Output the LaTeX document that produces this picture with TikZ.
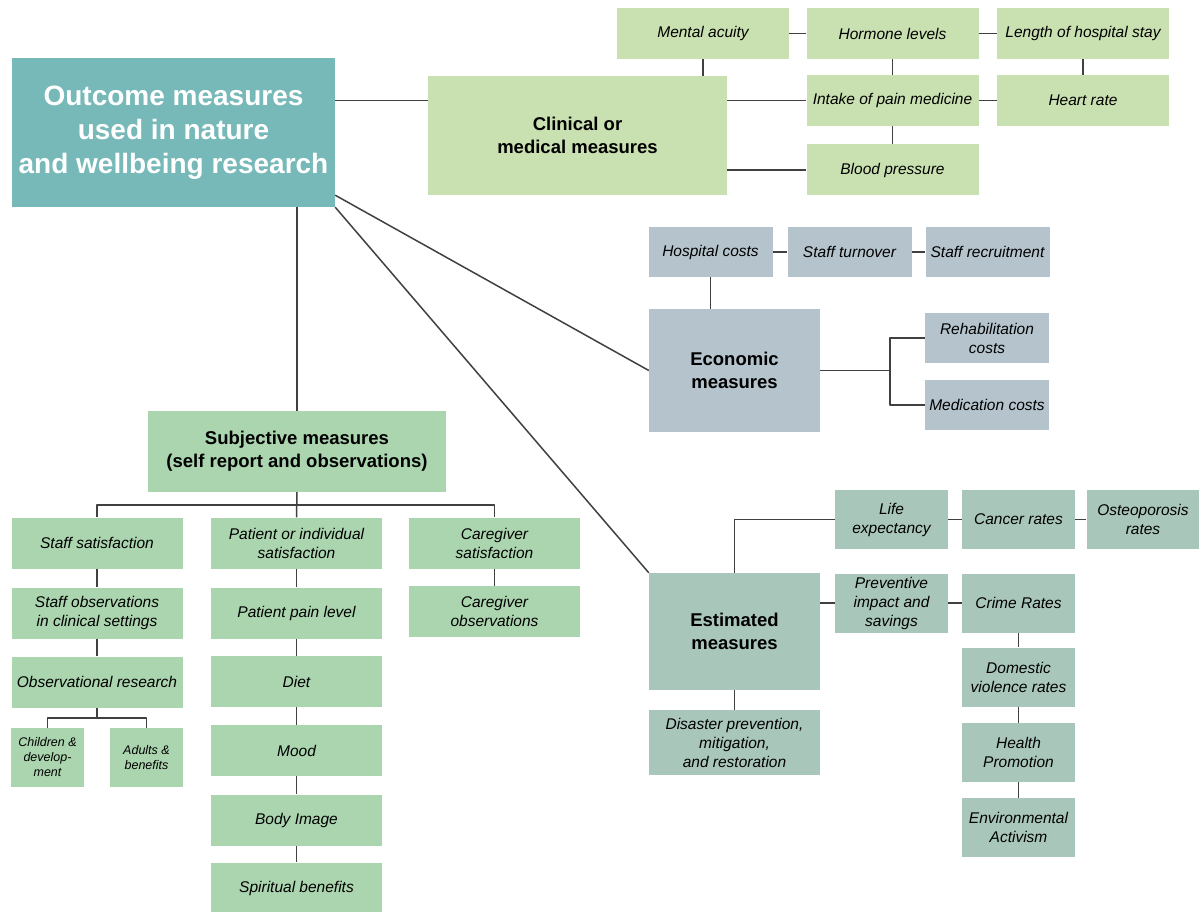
\documentclass[tikz,border=0pt]{standalone}
\usepackage{fontspec}
\setmainfont{Liberation Sans}
\definecolor{mainc}{HTML}{77B9B9}
\definecolor{clinc}{HTML}{C9E0B1}
\definecolor{subjc}{HTML}{AAD5AE}
\definecolor{econc}{HTML}{B5C3CC}
\definecolor{estc}{HTML}{A9C6BB}
\definecolor{linec}{HTML}{404040}
\begin{document}
\begin{tikzpicture}[x=1pt,y=-1pt,line join=round,
	every node/.style={rectangle,inner sep=0pt,align=center},
	wh/.style 2 args={minimum width=#1pt,minimum height=#2pt},
	leaf/.style={font=\fontsize{15.5}{19}\selectfont\itshape},
	tiny/.style={font=\fontsize{12.5}{15}\selectfont\itshape},
	cat/.style={font=\fontsize{18.5}{23}\selectfont\bfseries},
	link/.style={draw=linec,line width=1.5pt}]
	\useasboundingbox (0,0) rectangle (1199,912);
	\node[fill=mainc,wh={323}{149},text=white,font=\fontsize{28}{34}\selectfont\bfseries] (main) at (173.5,132.5) {\raisebox{-4pt}{\parbox{320pt}{\centering Outcome measures\\used in nature\\and wellbeing research}}};
	\node[cat,fill=clinc,wh={299}{119}] (clin) at (577.5,135.5) {Clinical or\\medical measures};
	\node[cat,fill=econc,wh={171}{123}] (econ) at (734.5,370.5) {Economic\\measures};
	\node[cat,fill=estc,wh={171}{117}] (est) at (734.5,631.5) {Estimated\\measures};
	\node[cat,fill=subjc,wh={298}{81}] (subj) at (297,451.5) {Subjective measures\\(self report and observations)};
	\foreach \n/\x/\y/\t in {mental/703/33.5/Mental acuity,hormone/892.5/33.5/Hormone levels,length/1083/33.5/Length of hospital stay,intake/892.5/100.5/Intake of pain medicine,heart/1083/100.5/Heart rate,blood/892.5/170/Blood pressure}
		\node[leaf,fill=clinc,wh={172}{51}] (\n) at (\x,\y) {\t};
	\foreach \n/\x/\y/\t in {hospital/710.5/252/Hospital costs,turnover/849.5/252/Staff turnover,recruit/987.5/252/Staff recruitment,rehab/987/338/{Rehabilitation\\costs},medic/987/405/Medication costs}
		\node[leaf,fill=econc,wh={124}{50}] (\n) at (\x,\y) {\t};
	\foreach \n/\x/\y/\t in {life/891.5/519.5/{Life\\expectancy},cancer/1018.5/519.5/Cancer rates,osteo/1143/519.5/{Osteoporosis\\rates},prev/891.5/603/{Preventive\\impact and\\savings},crime/1018.5/603/Crime Rates,dom/1018.5/677/{Domestic\\violence rates},health/1018.5/752.5/{Health\\Promotion},env/1018.5/827.5/{Environmental\\Activism}}
		\node[leaf,fill=estc,wh={113}{59}] (\n) at (\x,\y) {\t};
	\node[leaf,fill=estc,wh={171}{65}] (dis) at (734.5,742.5) {Disaster prevention,\\mitigation,\\and restoration};
	\foreach \n/\x/\y/\t in {ssat/97/543/Staff satisfaction,sobs/97/613/{Staff observations\\in clinical settings},obsr/97/682/Observational research,psat/296.5/543/{Patient or individual\\satisfaction},pain/296.5/613/Patient pain level,diet/296.5/681.5/Diet,mood/296.5/750.5/Mood,body/296.5/820/Body Image,spirit/296.5/888/Spiritual benefits,csat/494.5/543/{Caregiver\\satisfaction},cobs/494.5/611.5/{Caregiver\\observations}}
		\node[leaf,fill=subjc,wh={171}{51}] (\n) at (\x,\y) {\t};
	\node[tiny,fill=subjc,wh={73}{59}] (child) at (47.5,757.5) {Children \&\\develop-\\ment};
	\node[tiny,fill=subjc,wh={73}{59}] (adult) at (146.5,757.5) {Adults \&\\benefits};
	\coordinate (ebr) at (890,370.5);
	\coordinate (sbr) at (297,505);
	\coordinate (obr) at (97,718);
	\draw[link] (main.east |- intake.west) -- (clin.west |- intake.west);
	\draw[link] (clin.east |- intake.west) -- (intake.west);
	\draw[link] (clin.east |- blood.west) -- (blood.west);
	\draw[link] (mental.south) -- (mental.south |- clin.north);
	\draw[link] ([yshift=12pt]main.south east) -- (econ.west);
	\draw[link] (main.south east) -- (est.north west);
	\draw[link] (subj.north) -- (subj.north |- main.south);
	\draw[link] (hospital.south) -- (hospital.south |- econ.north);
	\draw[link] (econ.east) -- (ebr);
	\draw[link] (rehab.west) -| (ebr) |- (medic.west);
	\draw[link] (subj.south) -- (psat.north);
	\draw[link] (ssat.north) |- (sbr) -| (csat.north);
	\draw[link] (obsr.south) -- (obr);
	\draw[link] (child.north) |- (obr) -| (adult.north);
	\draw[link] (est.north) |- (life.west);
	\draw[link] (est.east |- prev.west) -- (prev.west);
	\foreach \a/\b in {mental/hormone,hormone/length,hormone/intake,length/heart,intake/heart,intake/blood,hospital/turnover,turnover/recruit,life/cancer,cancer/osteo,prev/crime,crime/dom,dom/health,health/env,est/dis,ssat/sobs,sobs/obsr,psat/pain,pain/diet,diet/mood,mood/body,body/spirit,csat/cobs}
		\draw[link] (\a) -- (\b);
\end{tikzpicture}
\end{document}
